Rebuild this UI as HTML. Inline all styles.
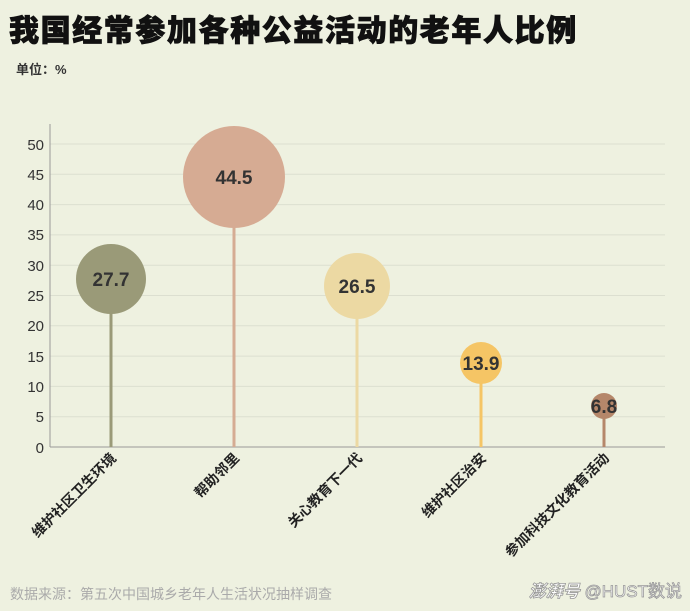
<!DOCTYPE html>
<html><head><meta charset="utf-8"><style>
body{margin:0;background:#eef1e0;}
svg{display:block;font-family:"Liberation Sans","Noto Sans CJK SC",sans-serif;}
</style></head><body>
<svg width="690" height="611" viewBox="0 0 690 611">
<rect width="690" height="611" fill="#eef1e0"/>
<text x="9" y="41" font-size="30" font-weight="900" fill="#111" letter-spacing="1.6" stroke="#111" stroke-width="0.8">我国经常参加各种公益活动的老年人比例</text>
<text x="16" y="74" font-size="13" font-weight="bold" fill="#333">单位：%</text>
<g stroke="#dcdfd0" stroke-width="1">
<line x1="50" x2="665" y1="144" y2="144"/><line x1="50" x2="665" y1="174.3" y2="174.3"/>
<line x1="50" x2="665" y1="204.6" y2="204.6"/><line x1="50" x2="665" y1="234.9" y2="234.9"/>
<line x1="50" x2="665" y1="265.2" y2="265.2"/><line x1="50" x2="665" y1="295.5" y2="295.5"/>
<line x1="50" x2="665" y1="325.8" y2="325.8"/><line x1="50" x2="665" y1="356.1" y2="356.1"/>
<line x1="50" x2="665" y1="386.4" y2="386.4"/><line x1="50" x2="665" y1="416.7" y2="416.7"/>
</g>
<line x1="50" y1="124" x2="50" y2="447" stroke="#999"/>
<line x1="50" y1="447" x2="665" y2="447" stroke="#999"/>
<g font-size="15" fill="#333" text-anchor="end">
<text x="44" y="150">50</text><text x="44" y="180">45</text><text x="44" y="210">40</text>
<text x="44" y="240">35</text><text x="44" y="271">30</text><text x="44" y="301">25</text>
<text x="44" y="331">20</text><text x="44" y="362">15</text><text x="44" y="392">10</text>
<text x="44" y="422">5</text><text x="44" y="453">0</text>
</g>
<g stroke-width="3">
<line x1="111" x2="111" y1="279" y2="447" stroke="#9a9a78"/>
<line x1="234" x2="234" y1="177" y2="447" stroke="#d5ac93"/>
<line x1="357" x2="357" y1="286" y2="447" stroke="#ecd9a3"/>
<line x1="481" x2="481" y1="363" y2="447" stroke="#f5c565"/>
<line x1="604" x2="604" y1="406" y2="447" stroke="#b5876a"/>
</g>
<circle cx="111" cy="279" r="35" fill="#9a9a78"/>
<circle cx="234" cy="177" r="51" fill="#d6ab93"/>
<circle cx="357" cy="286" r="33" fill="#ecd9a3"/>
<circle cx="481" cy="363" r="21" fill="#f5c565"/>
<circle cx="604" cy="406" r="13" fill="#b5876a"/>
<g font-size="19" font-weight="bold" fill="#333" text-anchor="middle">
<text x="111" y="286">27.7</text><text x="234" y="184">44.5</text><text x="357" y="293">26.5</text>
<text x="481" y="370">13.9</text><text x="604" y="413">6.8</text>
</g>
<g font-size="14" font-weight="bold" fill="#222" text-anchor="end">
<text transform="translate(117,459) rotate(-45)">维护社区卫生环境</text>
<text transform="translate(240,459) rotate(-45)">帮助邻里</text>
<text transform="translate(363,459) rotate(-45)">关心教育下一代</text>
<text transform="translate(487,459) rotate(-45)">维护社区治安</text>
<text transform="translate(610,459) rotate(-45)">参加科技文化教育活动</text>
</g>
<text x="10" y="599" font-size="14" fill="#aaa">数据来源：第五次中国城乡老年人生活状况抽样调查</text>
<text x="682" y="597" font-size="17" fill="#fff" text-anchor="end" stroke="#999" stroke-width="0.8"><tspan font-style="italic" font-weight="bold">澎湃号</tspan> @HUST数说</text>
</svg>
</body></html>
